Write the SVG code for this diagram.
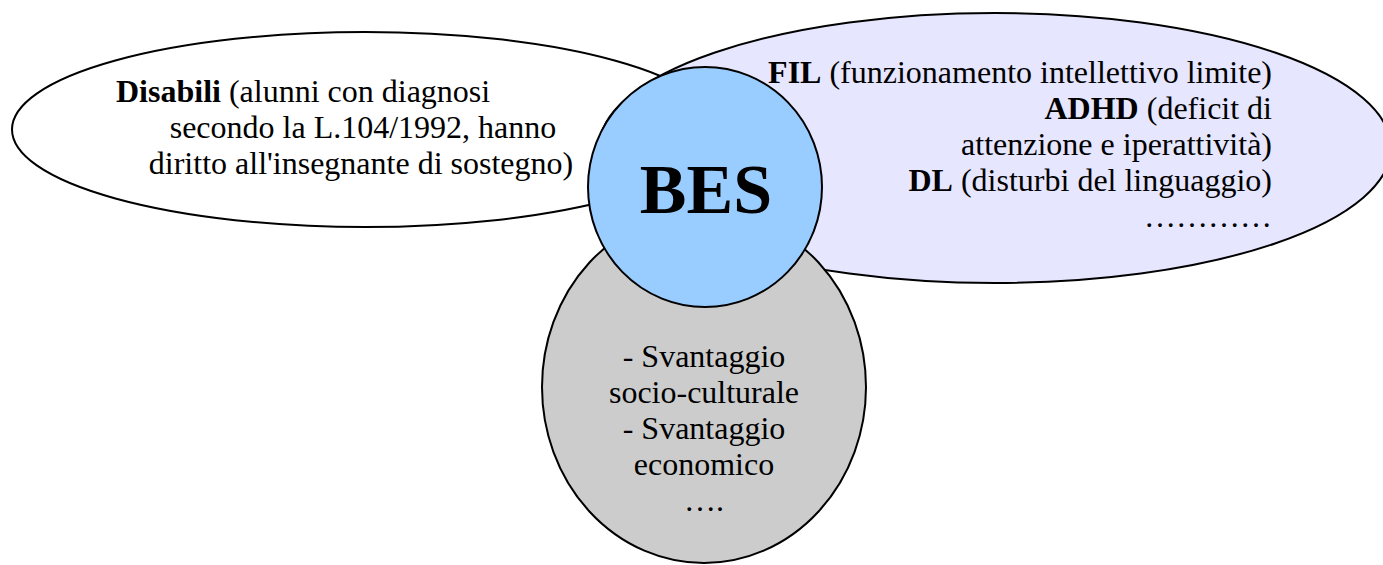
<svg xmlns="http://www.w3.org/2000/svg" width="1383" height="565" viewBox="0 0 1383 565">
<style>
.sh{stroke:#000;stroke-width:2}
.t{font-family:"Liberation Serif","Times New Roman",serif;font-size:32px;fill:#000}
.b{font-weight:bold}
</style>
<rect width="1383" height="565" fill="#fff"/>
<g id="disabili">
<ellipse class="sh" cx="365" cy="129.5" rx="353" ry="97.5" fill="#fff"/>
<text class="t" x="116" y="102"><tspan class="b">Disabili</tspan> (alunni con diagnosi</text>
<text class="t" x="363" y="138" text-anchor="middle">secondo la L.104/1992, hanno</text>
<text class="t" x="361" y="174" text-anchor="middle">diritto all'insegnante di sostegno)</text>
</g>
<g id="disturbi">
<ellipse class="sh" cx="995" cy="148" rx="396" ry="135" fill="#e6e6ff"/>
<text class="t" x="1272" y="83" text-anchor="end"><tspan class="b">FIL</tspan> (funzionamento intellettivo limite)</text>
<text class="t" x="1272" y="119" text-anchor="end"><tspan class="b">ADHD</tspan> (deficit di</text>
<text class="t" x="1272" y="155" text-anchor="end">attenzione e iperattività)</text>
<text class="t" x="1272" y="191" text-anchor="end"><tspan class="b">DL</tspan> (disturbi del linguaggio)</text>
<text class="t" x="1272" y="227" text-anchor="end">…………</text>
</g>
<g id="svantaggio">
<ellipse class="sh" cx="704" cy="387" rx="162" ry="176" fill="#ccc"/>
<text class="t" x="704" y="367" text-anchor="middle">- Svantaggio</text>
<text class="t" x="704" y="403" text-anchor="middle">socio-culturale</text>
<text class="t" x="704" y="439" text-anchor="middle">- Svantaggio</text>
<text class="t" x="704" y="475" text-anchor="middle">economico</text>
<text class="t" x="704" y="511" text-anchor="middle">….</text>
</g>
<g id="bes">
<ellipse class="sh" cx="705" cy="187" rx="117" ry="120" fill="#99ccff"/>
<text class="t b" x="706" y="213" text-anchor="middle" style="font-size:70px">BES</text>
</g>
<g id="connectors"/>
</svg>
